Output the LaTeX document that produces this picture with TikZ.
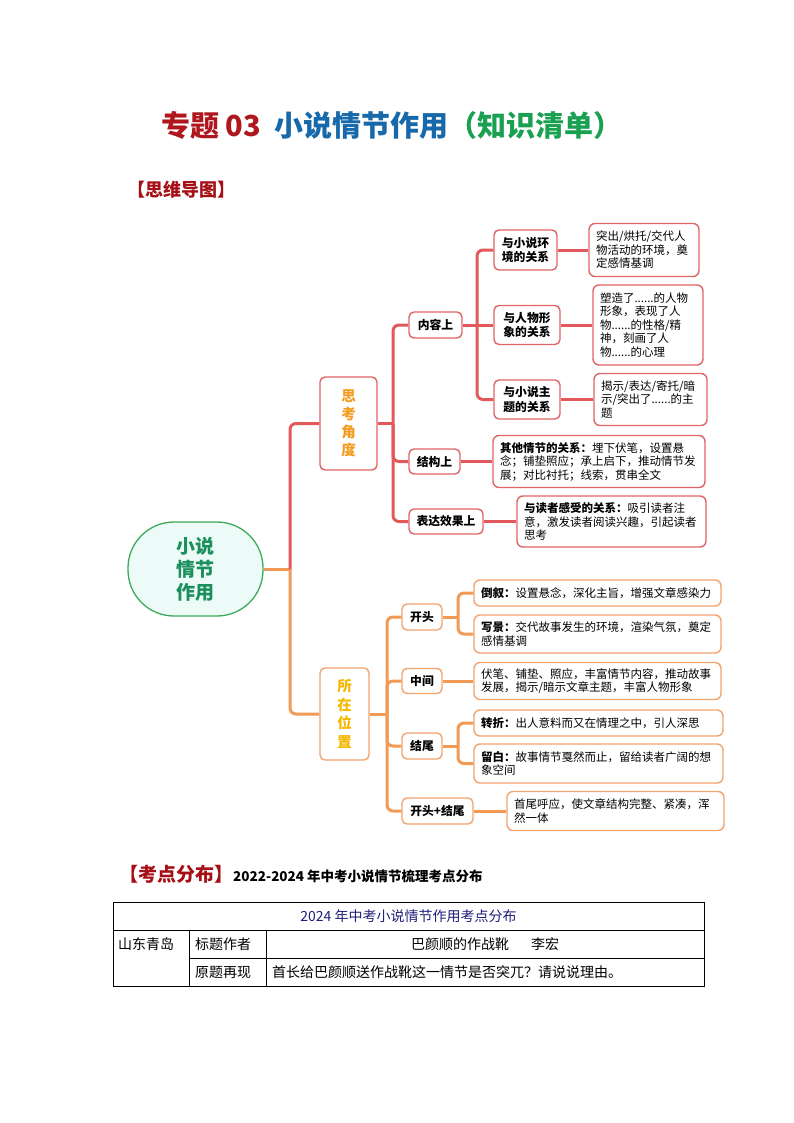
\documentclass[tikz,border=0pt]{standalone}
\usepackage{fontspec}
\setmainfont{Noto Sans CJK SC}
\definecolor{tred}{HTML}{B0161E}
\definecolor{tblue}{HTML}{1769AA}
\definecolor{tgreen}{HTML}{19A050}
\definecolor{hred}{HTML}{A50F15}
\definecolor{rootline}{HTML}{3DAA5A}
\definecolor{rootfill}{HTML}{ECFBF7}
\definecolor{roottext}{HTML}{1B8F5C}
\definecolor{lred}{HTML}{E3595B}
\definecolor{bred}{HTML}{E06566}
\definecolor{thinktext}{HTML}{F39C1F}
\definecolor{lor}{HTML}{F19A55}
\definecolor{bor}{HTML}{F2A46E}
\definecolor{postext}{HTML}{F5B700}
\definecolor{navy}{HTML}{1F1F7A}
\tikzset{
  redline/.style={draw=lred, line width=3pt, rounded corners=6pt},
  orline/.style={draw=lor, line width=3pt, rounded corners=6pt},
  labbox/.style={line width=1.4pt, rounded corners=5pt, fill=white, inner sep=0pt, align=center, font=\fontsize{11.8}{14.5}\selectfont\bfseries},
  rlab/.style={labbox, draw=bred},
  olab/.style={labbox, draw=bor},
  detbox/.style={line width=1.4pt, rounded corners=6pt, fill=white, inner xsep=7pt, inner ysep=0pt, align=left, font=\fontsize{11.5}{13.5}\selectfont},
  rdet/.style={detbox, draw=bred},
  odet/.style={detbox, draw=bor},
  tline/.style={draw=black, line width=0.9pt},
  ttext/.style={inner sep=0pt, font=\fontsize{14}{16}\selectfont},
}
\begin{document}
\begin{tikzpicture}[x=1pt,y=-1pt]
\useasboundingbox (0,0) rectangle (794,1123);
\fill[white] (0,0) rectangle (794,1123);

% title
\node[anchor=west, inner sep=0pt, font=\fontsize{29}{31}\selectfont\bfseries] (title) at (161,125)
  {\textcolor{tred}{专题 03}\hspace{13pt}\textcolor{tblue}{小说情节作用}\textcolor{tgreen}{（知识清单）}};
\node[anchor=west, inner sep=0pt, text=hred, font=\fontsize{18}{20}\selectfont\bfseries] (h1) at (127,190) {【思维导图】};

% mind map nodes
\node[draw=rootline, fill=rootfill, line width=1.3pt, minimum width=135pt, minimum height=94pt, rounded corners=46pt,
  text=roottext, align=center, font=\fontsize{19}{23}\selectfont\bfseries, inner sep=0pt] (root) at (195.5,569) {小说\\情节\\作用};

\node[rlab, minimum width=57pt, minimum height=93pt, text=thinktext, font=\fontsize{14.5}{18}\selectfont\bfseries] (think) at (348.5,423.5) {思\\考\\角\\度};
\node[rlab, minimum width=53pt, minimum height=26pt] (content) at (435.5,325) {内容上};
\node[rlab, minimum width=63pt, minimum height=40pt] (env) at (525.5,250) {与小说环\\境的关系};
\node[rlab, minimum width=66pt, minimum height=39pt] (char) at (527,325) {与人物形\\象的关系};
\node[rlab, minimum width=66pt, minimum height=39pt] (theme) at (527,399.5) {与小说主\\题的关系};
\node[rlab, minimum width=51pt, minimum height=25pt] (struct) at (434.5,461.5) {结构上};
\node[rlab, minimum width=74pt, minimum height=25pt] (express) at (446,521.5) {表达效果上};

\node[rdet, text width=96pt, minimum height=53pt] (d1) at (644,250) {突出/烘托/交代人\\物活动的环境，奠\\定感情基调};
\node[rdet, text width=96pt, minimum height=80pt] (d2) at (648,325) {塑造了......的人物\\形象，表现了人\\物......的性格/精\\神，刻画了人\\物......的心理};
\node[rdet, text width=99pt, minimum height=52pt] (d3) at (650.5,399.5) {揭示/表达/寄托/暗\\示/突出了......的主\\题};
\node[rdet, text width=198pt, minimum height=52pt] (d4) at (599,461.5) {{\bfseries 其他情节的关系：}埋下伏笔，设置悬\\念；铺垫照应；承上启下，推动情节发\\展；对比衬托；线索，贯串全文};
\node[rdet, text width=175pt, minimum height=51pt] (d5) at (611.5,521.5) {{\bfseries 与读者感受的关系：}吸引读者注\\意，激发读者阅读兴趣，引起读者\\思考};

\node[olab, minimum width=49pt, minimum height=92pt, text=postext, font=\fontsize{14.5}{18.5}\selectfont\bfseries] (pos) at (344.5,714) {所\\在\\位\\置};
\node[olab, minimum width=40pt, minimum height=26pt] (open) at (422,617) {开头};
\node[olab, minimum width=40pt, minimum height=25pt] (mid) at (422,681) {中间};
\node[olab, minimum width=40pt, minimum height=26pt] (end) at (422,746) {结尾};
\node[olab, minimum width=71pt, minimum height=26pt] (both) at (437.5,811) {开头+结尾};

\node[odet, text width=233pt, minimum height=26pt] (b1) at (597.5,593) {{\bfseries 倒叙：}设置悬念，深化主旨，增强文章感染力};
\node[odet, text width=233pt, minimum height=38pt] (b2) at (597.5,634) {{\bfseries 写景：}交代故事发生的环境，渲染气氛，奠定\\感情基调};
\node[odet, text width=233pt, minimum height=37pt] (b3) at (597.5,681) {伏笔、铺垫、照应，丰富情节内容，推动故事\\发展，揭示/暗示文章主题，丰富人物形象};
\node[odet, text width=235pt, minimum height=26pt] (b4) at (598.5,723) {{\bfseries 转折：}出人意料而又在情理之中，引人深思};
\node[odet, text width=235pt, minimum height=39pt] (b5) at (598.5,763.5) {{\bfseries 留白：}故事情节戛然而止，留给读者广阔的想\\象空间};
\node[odet, text width=203pt, minimum height=39pt] (b6) at (615.5,811) {首尾呼应，使文章结构完整、紧凑，浑\\然一体};

% junctions
\coordinate (j0) at (290,569);
\coordinate (j1) at (393,423.5);
\coordinate (j2) at (477,325);
\coordinate (j3) at (387,714);
\coordinate (jo) at (458,617);
\coordinate (je) at (458,746);

% connectors
\draw[orline] (root.east) -- (j0);
\draw[orline] (j0) |- (pos.west);
\draw[redline] (j0) |- (think.west);

\draw[redline] (think.east) -- (j1);
\draw[redline] (j1) |- (content.west);
\draw[redline] (j1) |- (struct.west);
\draw[redline] (j1) |- (express.west);
\draw[redline] (content.east) -- (j2);
\draw[redline] (j2) |- (env.west);
\draw[redline] (j2) -- (char.west);
\draw[redline] (j2) |- (theme.west);
\draw[redline] (env.east) -- (d1.west);
\draw[redline] (char.east) -- (d2.west);
\draw[redline] (theme.east) -- (d3.west);
\draw[redline] (struct.east) -- (d4.west);
\draw[redline] (express.east) -- (d5.west);

\draw[orline] (pos.east) -- (j3);
\draw[orline] (j3) |- (open.west);
\draw[orline] (j3) |- (mid.west);
\draw[orline] (j3) |- (end.west);
\draw[orline] (j3) |- (both.west);
\draw[orline] (open.east) -- (jo);
\draw[orline] (jo) |- (b1.west);
\draw[orline] (jo) |- (b2.west);
\draw[orline] (mid.east) -- (b3.west);
\draw[orline] (end.east) -- (je);
\draw[orline] (je) |- (b4.west);
\draw[orline] (je) |- (b5.west);
\draw[orline] (both.east) -- (b6.west);

% second heading
\node[anchor=west, inner sep=0pt] (h2) at (119,874)
  {\textcolor{hred}{\fontsize{19}{21}\selectfont\bfseries 【考点分布】}{\fontsize{13.5}{16}\selectfont\bfseries 2022-2024 年中考小说情节梳理考点分布}};

% table
\draw[tline] (113,902) rectangle (704,986);
\draw[tline] (113,930) -- (704,930);
\draw[tline] (189,958) -- (704,958);
\draw[tline] (189,930) -- (189,986);
\draw[tline] (266,930) -- (266,986);
\node[ttext, text=navy] (r1) at (408.5,916) {2024 年中考小说情节作用考点分布};
\node[ttext, anchor=west] (c1) at (118,944) {山东青岛};
\node[ttext, anchor=west] (c2) at (195,944) {标题作者};
\node[ttext] (c3) at (485,944) {巴颜顺的作战靴\hspace{22pt}李宏};
\node[ttext, anchor=west] (c4) at (195,972) {原题再现};
\node[ttext, anchor=west] (c5) at (272,972) {首长给巴颜顺送作战靴这一情节是否突兀？请说说理由。};
\end{tikzpicture}
\end{document}
